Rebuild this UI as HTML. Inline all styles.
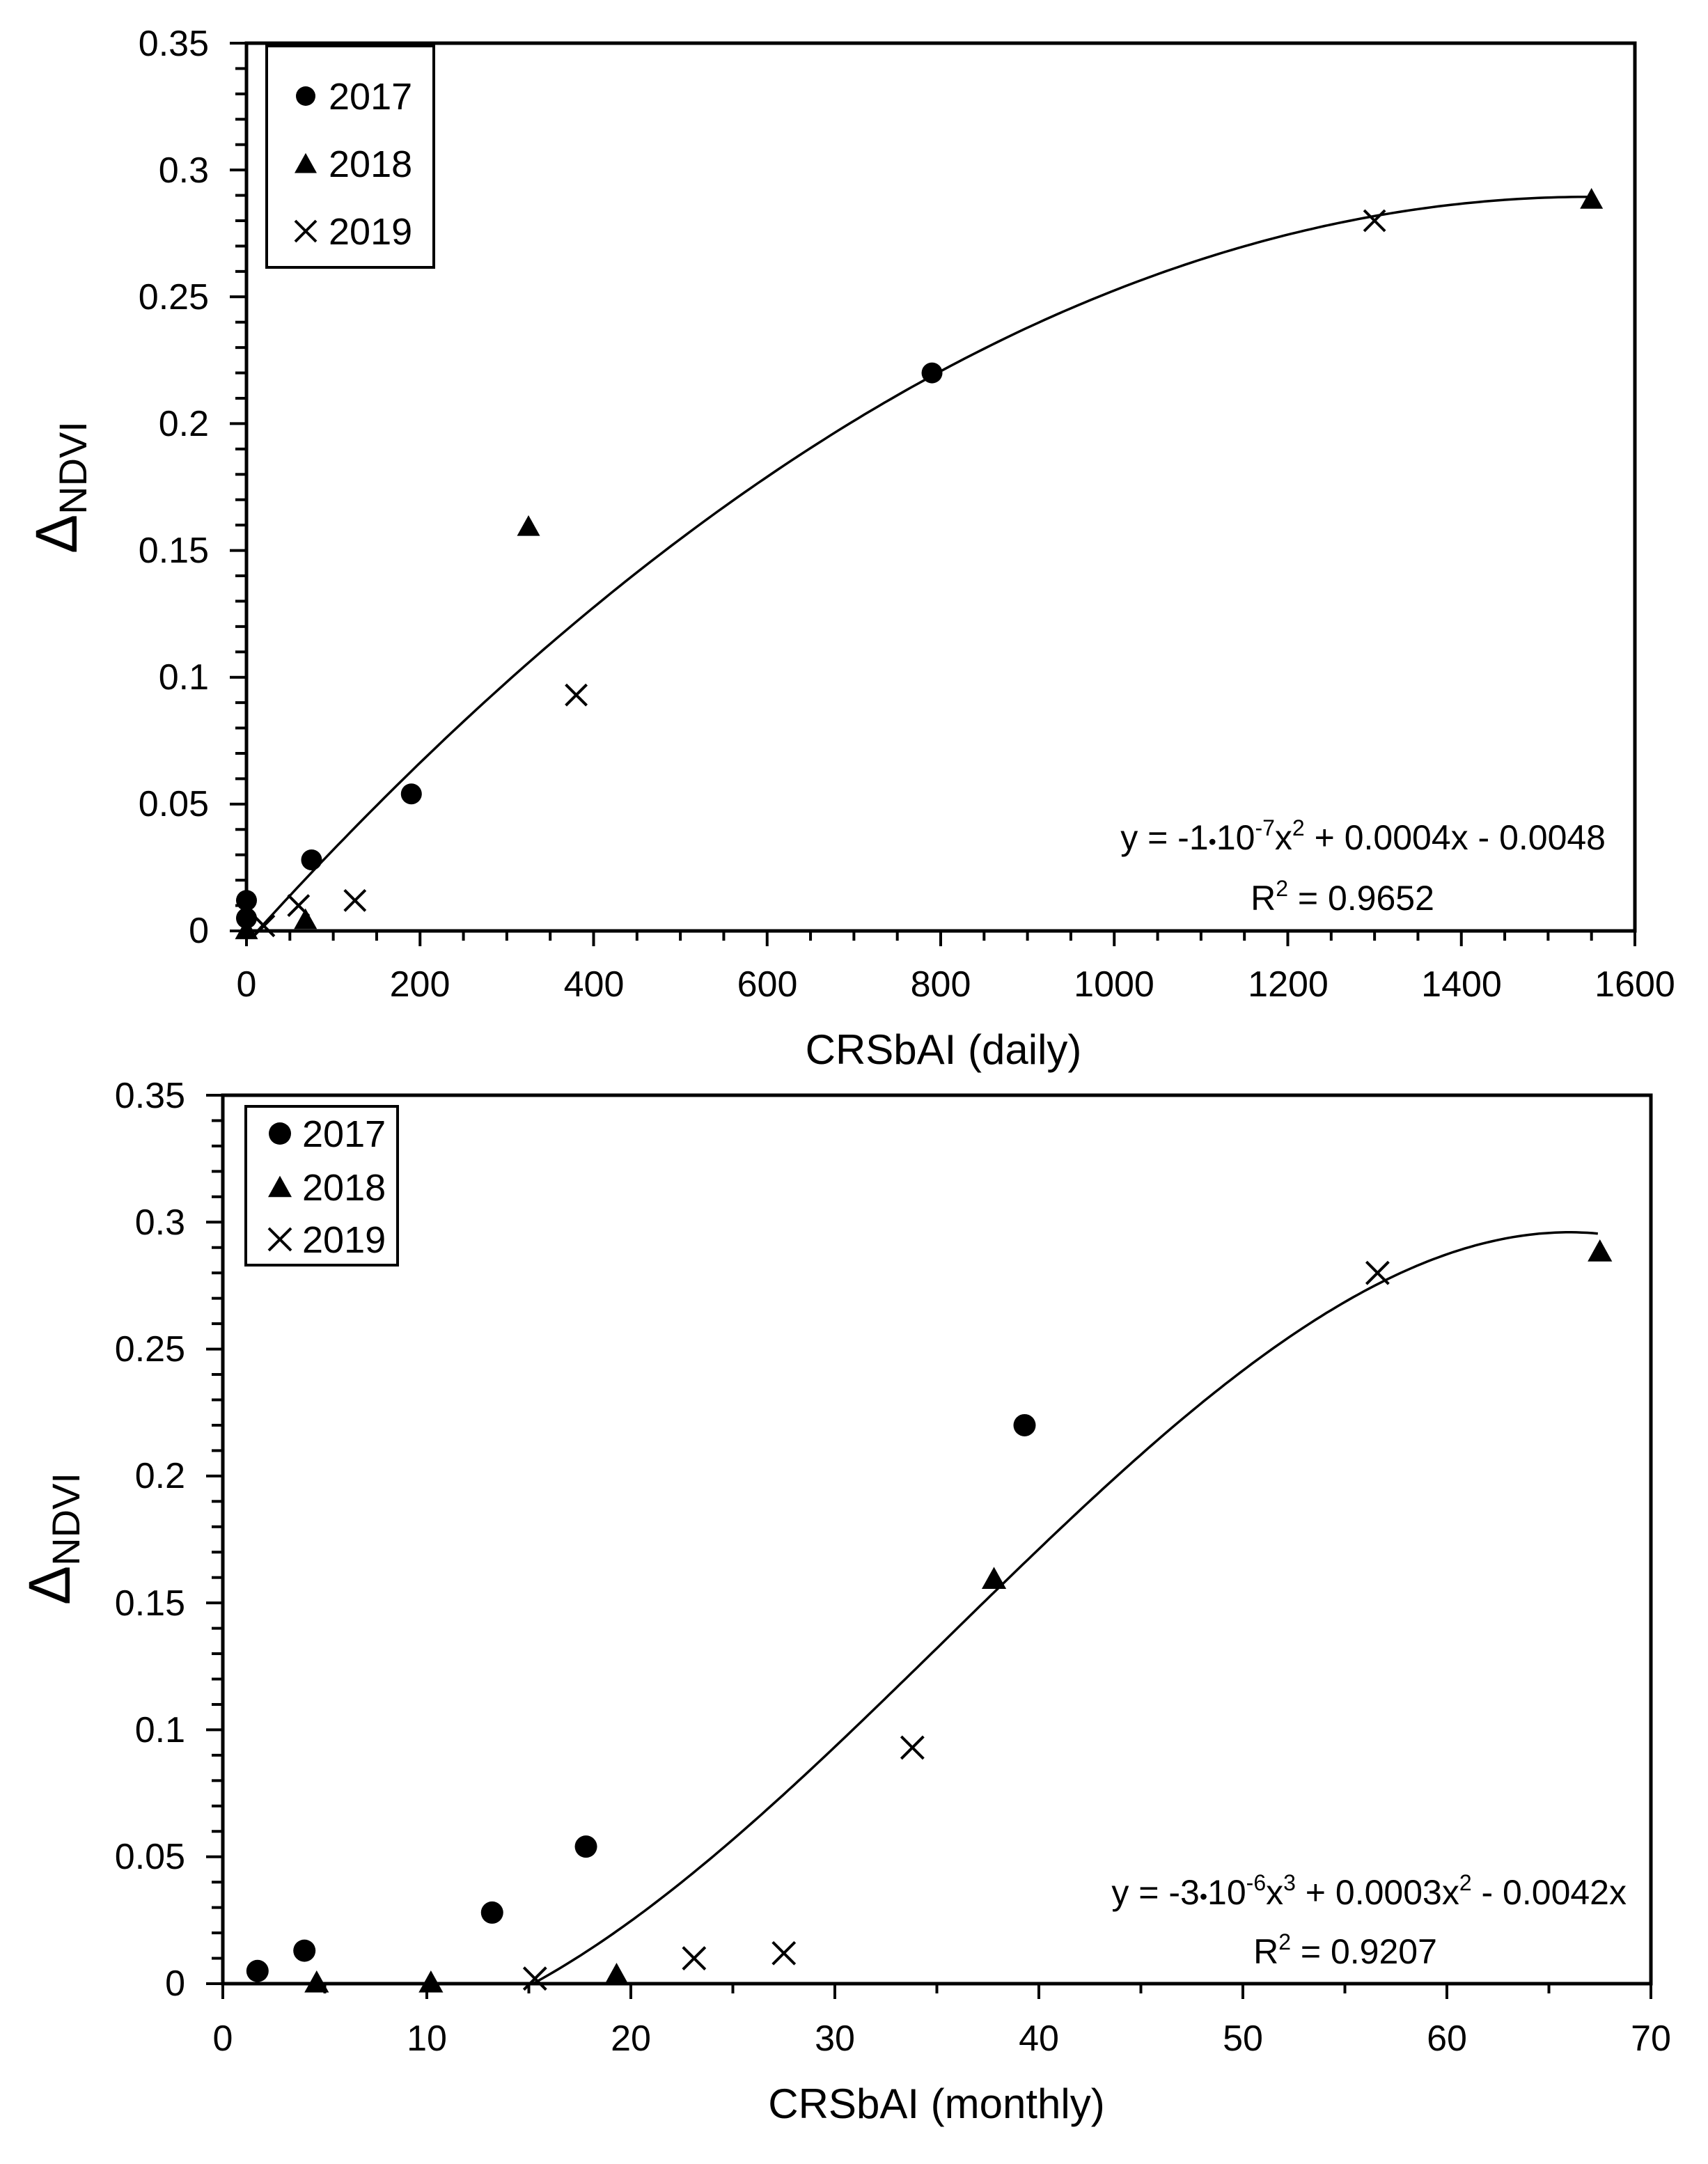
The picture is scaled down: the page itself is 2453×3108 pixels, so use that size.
<!DOCTYPE html>
<html><head><meta charset="utf-8"><style>
html,body{margin:0;padding:0;background:#fff;}
svg{display:block;}
text{font-family:"Liberation Sans",sans-serif;fill:#000;}
</style></head><body>
<svg id="s" width="2453" height="3108" viewBox="0 0 2453 3108" xmlns="http://www.w3.org/2000/svg">
<rect width="2453" height="3108" fill="#fff"/>
<g id="g"></g>
<!-- top plot text -->
<g font-size="52" text-anchor="end">
<text x="300" y="80">0.35</text>
<text x="300" y="262">0.3</text>
<text x="300" y="444">0.25</text>
<text x="300" y="626">0.2</text>
<text x="300" y="808">0.15</text>
<text x="300" y="990">0.1</text>
<text x="300" y="1172">0.05</text>
<text x="300" y="1354">0</text>
</g>
<g font-size="52" text-anchor="middle">
<text x="354" y="1431">0</text>
<text x="603" y="1431">200</text>
<text x="853" y="1431">400</text>
<text x="1102" y="1431">600</text>
<text x="1351" y="1431">800</text>
<text x="1600" y="1431">1000</text>
<text x="1850" y="1431">1200</text>
<text x="2099" y="1431">1400</text>
<text x="2348" y="1431">1600</text>
</g>
<text x="1355" y="1528" font-size="60" text-anchor="middle">CRSbAI (daily)</text>
<text transform="translate(110,700) rotate(-90)" text-anchor="middle"><tspan font-size="84">Δ</tspan><tspan font-size="56" dy="14">NDVI</tspan></text>
<rect x="383" y="66" width="240" height="318" fill="#fff" stroke="#000" stroke-width="4"/>
<g font-size="54"><text x="472" y="157">2017</text><text x="472" y="254">2018</text><text x="472" y="351">2019</text></g>
<text x="2306" y="1220" font-size="50" text-anchor="end">y = -1<tspan font-size="32">•</tspan>10<tspan font-size="32" dy="-20">-7</tspan><tspan dy="20">x</tspan><tspan font-size="32" dy="-20">2</tspan><tspan dy="20"> + 0.0004x - 0.0048</tspan></text>
<text x="1928" y="1307" font-size="50" text-anchor="middle">R<tspan font-size="32" dy="-20">2</tspan><tspan dy="20"> = 0.9652</tspan></text>
<!-- bottom plot text -->
<g font-size="52" text-anchor="end">
<text x="266" y="1591">0.35</text>
<text x="266" y="1773">0.3</text>
<text x="266" y="1955">0.25</text>
<text x="266" y="2137">0.2</text>
<text x="266" y="2320">0.15</text>
<text x="266" y="2502">0.1</text>
<text x="266" y="2684">0.05</text>
<text x="266" y="2866">0</text>
</g>
<g font-size="52" text-anchor="middle">
<text x="320" y="2945">0</text>
<text x="613" y="2945">10</text>
<text x="906" y="2945">20</text>
<text x="1199" y="2945">30</text>
<text x="1492" y="2945">40</text>
<text x="1785" y="2945">50</text>
<text x="2078" y="2945">60</text>
<text x="2371" y="2945">70</text>
</g>
<text x="1345" y="3042" font-size="60" text-anchor="middle">CRSbAI (monthly)</text>
<text transform="translate(100,2210) rotate(-90)" text-anchor="middle"><tspan font-size="84">Δ</tspan><tspan font-size="56" dy="14">NDVI</tspan></text>
<rect x="353" y="1589" width="218" height="228" fill="#fff" stroke="#000" stroke-width="4"/>
<g font-size="54"><text x="434" y="1647">2017</text><text x="434" y="1724">2018</text><text x="434" y="1799">2019</text></g>
<text x="2336" y="2735" font-size="50" text-anchor="end">y = -3<tspan font-size="32">•</tspan>10<tspan font-size="32" dy="-20">-6</tspan><tspan dy="20">x</tspan><tspan font-size="32" dy="-20">3</tspan><tspan dy="20"> + 0.0003x</tspan><tspan font-size="32" dy="-20">2</tspan><tspan dy="20"> - 0.0042x</tspan></text>
<text x="1932" y="2820" font-size="50" text-anchor="middle">R<tspan font-size="32" dy="-20">2</tspan><tspan dy="20"> = 0.9207</tspan></text>
<g id="lg"></g>
</svg>
<script>
var NS="http://www.w3.org/2000/svg",G=document.getElementById("g");
function el(t,a){var e=document.createElementNS(NS,t);for(var k in a)e.setAttribute(k,a[k]);G.appendChild(e);return e;}
function line(x1,y1,x2,y2,w){el("line",{x1:x1,y1:y1,x2:x2,y2:y2,stroke:"#000","stroke-width":w||4});}
function circ(x,y,r){el("circle",{cx:x,cy:y,r:r,fill:"#000"});}
function tri(x,y,s){var h=s*0.9;el("polygon",{points:(x)+","+(y-h*0.6)+" "+(x-s/2)+","+(y+h*0.4)+" "+(x+s/2)+","+(y+h*0.4),fill:"#000"});}
function cross(x,y,s){line(x-s,y-s,x+s,y+s,4);line(x-s,y+s,x+s,y-s,4);}
function plot(P){
  var X=function(v){return P.l+(v-P.x0)/(P.x1-P.x0)*(P.r-P.l);};
  var Y=function(v){return P.b-v/0.35*(P.b-P.t);};
  for(var i=0;i<=35;i++){var y=Y(i*0.01);var major=i%5==0;line(P.l-(major?24:16),y,P.l,y,4);}
  for(var v=P.x0;v<=P.x1+1e-9;v+=P.minor){var x=X(v);var major=Math.abs(v/P.major-Math.round(v/P.major))<1e-6;line(x,P.b,x,P.b+(major?22:14),4);}
  el("rect",{x:P.l,y:P.t,width:P.r-P.l,height:P.b-P.t,fill:"none",stroke:"#000","stroke-width":5});
  var d="";for(var k=0;k<=200;k++){var xv=P.c0+(P.c1-P.c0)*k/200;d+=(k?"L":"M")+X(xv).toFixed(1)+","+Y(P.f(xv)).toFixed(1);}
  el("path",{d:d,fill:"none",stroke:"#000","stroke-width":3.5});
  P.a.forEach(function(p){circ(X(p[0]),Y(p[1]),P.ms*0.5);});
  P.bb.forEach(function(p){tri(X(p[0]),Y(p[1]),P.ms*1.1);});
  P.c.forEach(function(p){cross(X(p[0]),Y(p[1]),P.ms*0.5);});
}
plot({l:354,r:2348,t:62,b:1337,x0:0,x1:1600,minor:50,major:200,ms:30,
 f:function(x){return -1.227e-7*x*x+3.8e-4*x-0.0048;},c0:12.7,c1:1550,
 a:[[0,0.012],[0,0.005],[75,0.028],[190,0.054],[790,0.22]],
 bb:[[0,0],[68,0.004],[325,0.159],[1550,0.288]],
 c:[[20,0.002],[60,0.01],[125,0.012],[380,0.093],[1300,0.28]]});
function F(x){return x*x*x/3-35.5*x*x+330*x;}
plot({l:320,r:2371,t:1573,b:2849,x0:0,x1:70,minor:5,major:10,ms:32,
 f:function(x){return -8.455e-6*(F(x)-F(15.2));},c0:15.2,c1:67.4,
 a:[[1.7,0.005],[4,0.013],[13.2,0.028],[17.8,0.054],[39.3,0.22]],
 bb:[[4.6,0],[10.2,0],[19.3,0.003],[37.8,0.159],[67.5,0.288]],
 c:[[15.3,0.002],[23.1,0.01],[27.5,0.012],[33.8,0.093],[56.6,0.28]]});
G=document.getElementById("lg");
circ(439,138,14);tri(439,237,32);cross(439,332,15);
circ(402,1628,16);tri(402,1707,34);cross(402,1780,16);
</script>
</body></html>
